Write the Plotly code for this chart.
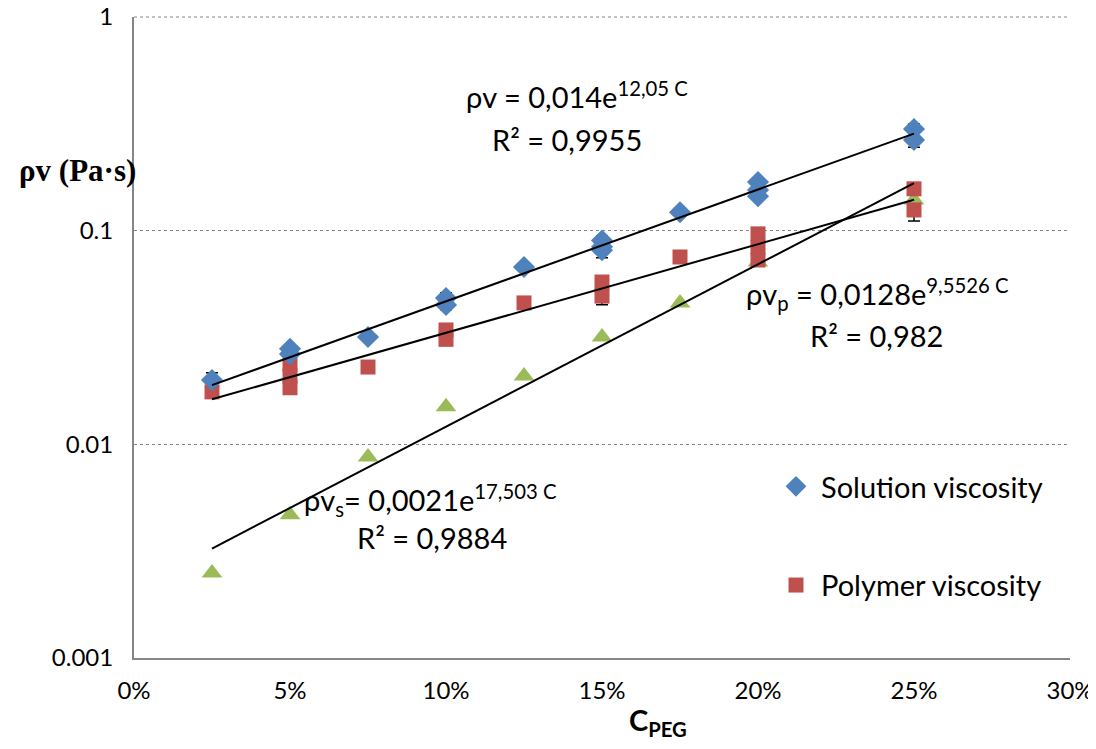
import numpy as np
import plotly.graph_objects as go

# ---------------- data ----------------
sol_x = [0.025, 0.05, 0.05, 0.075, 0.10, 0.10, 0.125, 0.15, 0.15, 0.15, 0.175, 0.20, 0.20, 0.20, 0.25, 0.25]
sol_y = [0.0200, 0.0280, 0.0265, 0.0318, 0.0484, 0.0449, 0.0676, 0.0900, 0.0840, 0.0810, 0.1220, 0.1690, 0.1550, 0.1450, 0.2990, 0.2660]

pol_x = [0.025, 0.05, 0.05, 0.05, 0.075, 0.10, 0.10, 0.125, 0.15, 0.15, 0.175, 0.20, 0.20, 0.20, 0.25, 0.25]
pol_y = [0.0176, 0.0238, 0.0209, 0.0184, 0.0230, 0.0343, 0.0310, 0.0459, 0.0575, 0.0494, 0.0753, 0.0966, 0.0837, 0.0729, 0.1570, 0.1250]

sh_x = [0.025, 0.05, 0.075, 0.10, 0.125, 0.15, 0.175, 0.20, 0.25]
sh_y = [0.0025, 0.00468, 0.00873, 0.0150, 0.0209, 0.0318, 0.0459, 0.0714, 0.139]

# error bars (mean, upper, lower) where visible
sol_err_x = [0.025, 0.10, 0.15, 0.25]
sol_err_mean = [0.0200, 0.0467, 0.0840, 0.2810]
sol_err_hi = [0.0216, 0.0512, 0.0944, 0.316]
sol_err_lo = [0.0186, 0.0426, 0.0746, 0.246]

pol_err_x = [0.15, 0.25]
pol_err_mean = [0.0530, 0.1400]
pol_err_hi = [0.0590, 0.1600]
pol_err_lo = [0.0450, 0.1110]

# exponential trend lines y = a*exp(b*C)
fit_names = ["solution", "polymer", "shear"]
fit_a = [0.014, 0.0128, 0.0021]
fit_b = [12.05, 9.5526, 17.503]
fit_range = [0.025, 0.25]

x_tickvals = [0, 0.05, 0.10, 0.15, 0.20, 0.25, 0.30]
x_ticktext = ["0%", "5%", "10%", "15%", "20%", "25%", "30%"]
y_tickvals = [0.001, 0.01, 0.1, 1]
y_ticktext = ["0.001", "0.01", "0.1", "1"]

BLUE = "#4F81BD"
RED = "#C0504D"
GREEN = "#9BBB59"
FONT = "Lato"

# page offset (body margin) and figure geometry
W, H = 1088, 741
ML, MR, MT, MB = 126, 26, 9, 91
PW, PH = W - ML - MR, H - MT - MB


def px(xp):  # page pixel x -> paper
    return (xp - 8 - ML) / PW


def py(yp):  # page pixel y -> paper
    return (H - MB - (yp - 8)) / PH


fig = go.Figure()


def err_trace(x, m, hi, lo):
    return go.Scatter(
        x=x, y=m, mode="markers",
        marker=dict(size=1, color="rgba(0,0,0,0)"),
        error_y=dict(type="data", symmetric=False,
                     array=[h - v for h, v in zip(hi, m)],
                     arrayminus=[v - l for v, l in zip(m, lo)],
                     color="black", thickness=1.5, width=6),
        showlegend=False, hoverinfo="skip")


fig.add_trace(err_trace(sol_err_x, sol_err_mean, sol_err_hi, sol_err_lo))
fig.add_trace(err_trace(pol_err_x, pol_err_mean, pol_err_hi, pol_err_lo))

fig.add_trace(go.Scatter(x=sh_x, y=sh_y, mode="markers", showlegend=False,
                         marker=dict(symbol="triangle-up", size=18, color=GREEN)))
fig.add_trace(go.Scatter(x=pol_x, y=pol_y, mode="markers", name="Polymer viscosity",
                         legendgroup="b", legendrank=2,
                         marker=dict(symbol="square", size=15, color=RED)))
fig.add_trace(go.Scatter(x=sol_x, y=sol_y, mode="markers", name="Solution viscosity",
                         legendgroup="a", legendrank=1,
                         marker=dict(symbol="diamond", size=17, color=BLUE)))

for a, b in zip(fit_a, fit_b):
    cx = np.linspace(fit_range[0], fit_range[1], 50)
    fig.add_trace(go.Scatter(x=cx, y=a * np.exp(b * cx), mode="lines",
                             line=dict(color="black", width=2),
                             showlegend=False, hoverinfo="skip"))

ann_font = dict(family=FONT, size=29, color="black")


def ann(text, xp, yp, font=ann_font):
    return dict(text=text, x=px(xp), y=py(yp), xref="paper", yref="paper",
                xanchor="center", yanchor="middle", showarrow=False, font=font)


annotations = [
    ann("ρv = 0,014e<sup>12,05 C</sup>", 577, 95),
    ann("R² = 0,9955", 567, 139),
    ann("ρv<sub>p</sub> = 0,0128e<sup>9,5526 C</sup>", 877, 294),
    ann("R² = 0,982", 876, 335),
    ann("ρv<sub>s</sub>= 0,0021e<sup>17,503 C</sup>", 430, 500),
    ann("R² = 0,9884", 432, 537),
    ann("<b>ρv (Pa·s)</b>", 77, 170, dict(family="Liberation Serif", size=31, color="black")),
    ann("<b>C<sub>PEG</sub></b>", 658, 721, dict(family=FONT, size=29, color="black")),
]

shapes = [
    dict(type="line", xref="paper", yref="paper", x0=0, x1=1, y0=1, y1=1,
         line=dict(color="#868686", width=1, dash="dot")),
]

fig.update_layout(
    width=W, height=H,
    margin=dict(l=ML, r=MR, t=MT, b=MB),
    paper_bgcolor="white", plot_bgcolor="white",
    font=dict(family=FONT, size=24, color="black"),
    annotations=annotations,
    shapes=shapes,
    legend=dict(x=px(771), y=py(461), xanchor="left", yanchor="top",
                font=dict(family=FONT, size=29, color="black"),
                tracegroupgap=58, itemwidth=40, bgcolor="rgba(0,0,0,0)"),
    xaxis=dict(range=[0, 0.30], tickvals=x_tickvals, ticktext=x_ticktext,
               showgrid=False, zeroline=False, showline=True, linecolor="#868686",
               linewidth=2, ticks="", ticklabelstandoff=10, automargin=False,
               ticklabeloverflow="allow"),
    yaxis=dict(type="log", range=[-3, 0], tickvals=y_tickvals, ticktext=y_ticktext,
               showgrid=True, gridcolor="#868686", griddash="dot", gridwidth=1,
               zeroline=False, showline=True, linecolor="#868686", linewidth=2,
               ticks="", ticklabelstandoff=14, automargin=False,
               ticklabeloverflow="allow"),
)

fig.write_html("out.html")
